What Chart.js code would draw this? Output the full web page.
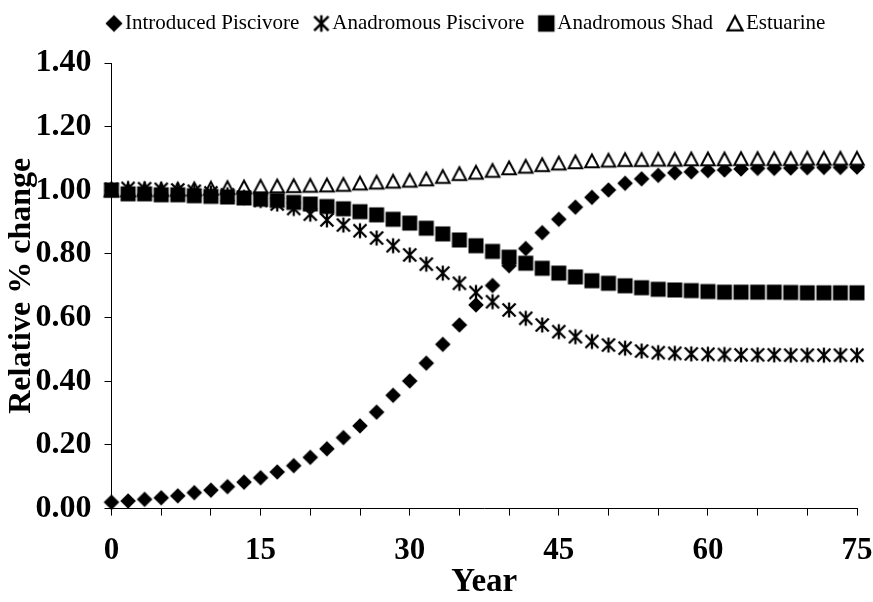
<!DOCTYPE html>
<html>
<head>
<meta charset="utf-8">
<script src="https://cdn.jsdelivr.net/npm/chart.js@4/dist/chart.umd.min.js"></script>
<style>
  html, body { margin: 0; padding: 0; background: #fff; }
  canvas { display: block; }
</style>
</head>
<body>
<canvas id="chart" width="873" height="602"></canvas>
<script>
// Simulation years (one point every 5/3 year)
const years = [0, 1.67, 3.33, 5, 6.67, 8.33, 10, 11.67, 13.33, 15, 16.67, 18.33, 20, 21.67, 23.33,
  25, 26.67, 28.33, 30, 31.67, 33.33, 35, 36.67, 38.33, 40, 41.67, 43.33, 45, 46.67, 48.33,
  50, 51.67, 53.33, 55, 56.67, 58.33, 60, 61.67, 63.33, 65, 66.67, 68.33, 70, 71.67, 73.33, 75];

const introducedPiscivore = [0.020, 0.024, 0.029, 0.034, 0.040, 0.050, 0.058, 0.069, 0.083, 0.097,
  0.115, 0.135, 0.161, 0.188, 0.223, 0.260, 0.303, 0.356, 0.401, 0.457,
  0.516, 0.577, 0.640, 0.701, 0.763, 0.817, 0.867, 0.909, 0.947, 0.978,
  1.001, 1.022, 1.036, 1.047, 1.055, 1.058, 1.062, 1.064, 1.067, 1.069,
  1.069, 1.070, 1.071, 1.072, 1.072, 1.073];

const anadromousPiscivore = [1.003, 1.006, 1.005, 1.003, 1.001, 0.997, 0.992, 0.986, 0.978, 0.968,
  0.957, 0.943, 0.925, 0.907, 0.891, 0.873, 0.850, 0.826, 0.797, 0.768,
  0.740, 0.708, 0.679, 0.650, 0.624, 0.598, 0.577, 0.556, 0.540, 0.525,
  0.514, 0.504, 0.495, 0.490, 0.488, 0.486, 0.485, 0.484, 0.483, 0.483,
  0.483, 0.482, 0.482, 0.482, 0.482, 0.482];

const anadromousShad = [1.001, 0.989, 0.989, 0.986, 0.986, 0.983, 0.981, 0.979, 0.976, 0.972,
  0.968, 0.962, 0.957, 0.949, 0.942, 0.933, 0.923, 0.909, 0.897, 0.881,
  0.863, 0.844, 0.826, 0.808, 0.790, 0.771, 0.755, 0.740, 0.728, 0.716,
  0.708, 0.700, 0.694, 0.689, 0.687, 0.685, 0.682, 0.680, 0.680, 0.680,
  0.680, 0.679, 0.678, 0.678, 0.678, 0.678];

const estuarine = [1.000, 1.001, 1.002, 1.002, 1.003, 1.004, 1.006, 1.008, 1.010, 1.012,
  1.013, 1.014, 1.015, 1.016, 1.018, 1.022, 1.025, 1.028, 1.031, 1.035,
  1.043, 1.052, 1.056, 1.062, 1.070, 1.075, 1.080, 1.085, 1.089, 1.092,
  1.094, 1.096, 1.096, 1.097, 1.097, 1.098, 1.098, 1.098, 1.099, 1.099,
  1.099, 1.099, 1.100, 1.100, 1.100, 1.100];

const xTickLabels = [0, 15, 30, 45, 60, 75];

// Marker glyphs drawn into small canvases; s = scale factor
function makeMarker(draw, s) {
  const size = Math.round(20 * s);
  const c = document.createElement('canvas');
  c.width = size; c.height = size;
  const g = c.getContext('2d');
  g.scale(s, s);
  draw(g);
  return c;
}
function drawDiamond(g) {
  g.fillStyle = '#000';
  g.beginPath();
  g.moveTo(10, 2.2); g.lineTo(17.8, 10); g.lineTo(10, 17.8); g.lineTo(2.2, 10);
  g.closePath(); g.fill();
}
function drawAsterisk(g) {
  g.strokeStyle = '#000'; g.lineWidth = 2.3; g.lineCap = 'butt';
  g.beginPath();
  g.moveTo(3.5, 3.5); g.lineTo(16.5, 16.5);
  g.moveTo(16.5, 3.5); g.lineTo(3.5, 16.5);
  g.moveTo(10, 2.5); g.lineTo(10, 17.5);
  g.stroke();
}
function drawSquare(g) {
  g.fillStyle = '#000';
  g.fillRect(2.5, 2.5, 15, 15);
}
function drawTriangle(g) {
  g.fillStyle = '#fff'; g.strokeStyle = '#000'; g.lineWidth = 2; g.lineJoin = 'miter';
  g.beginPath();
  g.moveTo(10, 3.5); g.lineTo(16.8, 16.3); g.lineTo(3.2, 16.3);
  g.closePath(); g.fill(); g.stroke();
}
const plotMarkers = [drawDiamond, drawAsterisk, drawSquare, drawTriangle].map(d => makeMarker(d, 1));
const legendMarkers = [drawDiamond, drawAsterisk, drawSquare, drawTriangle].map(d => makeMarker(d, 1.1));

function points(values) {
  return values.map((v, i) => ({ x: years[i], y: v }));
}

// Places the legend row and reserves the band above the plot
const legendPlacement = {
  id: 'legendPlacement',
  afterInit(chart) {
    const lg = chart.legend;
    const fit = lg.fit.bind(lg);
    lg.fit = function () { fit(); this.height = 63; };
  },
  afterLayout(chart) {
    const lg = chart.legend;
    const p = lg.options.labels.padding;
    const dx = 113.5 - p - lg.left;
    lg.left += dx; lg.right += dx;
    lg.top = 13 - p; lg.bottom = lg.top + lg.height;
  }
};

const serif = "'Liberation Serif', 'Times New Roman', serif";
Chart.defaults.color = '#000';
Chart.defaults.font.family = serif;

const seriesStyle = {
  showLine: false,
  clip: false,
  pointRadius: 8,
  pointHoverRadius: 8,
  borderColor: '#000',
  backgroundColor: '#000'
};

new Chart(document.getElementById('chart'), {
  type: 'scatter',
  data: {
    datasets: [
      { ...seriesStyle, label: 'Introduced Piscivore', data: points(introducedPiscivore), pointStyle: plotMarkers[0], order: 3 },
      { ...seriesStyle, label: 'Anadromous Piscivore', data: points(anadromousPiscivore), pointStyle: plotMarkers[1], order: 1 },
      { ...seriesStyle, label: 'Anadromous Shad', data: points(anadromousShad), pointStyle: plotMarkers[2], order: 0 },
      { ...seriesStyle, label: 'Estuarine', data: points(estuarine), pointStyle: plotMarkers[3], order: 2 }
    ]
  },
  options: {
    responsive: false,
    animation: false,
    layout: { padding: { left: 0, right: 16, top: 0, bottom: 0 } },
    plugins: {
      tooltip: { enabled: false },
      legend: {
        position: 'top',
        align: 'start',
        labels: {
          usePointStyle: true,
          pointStyleWidth: 1,
          padding: 21.5,
          color: '#000',
          font: { family: serif, size: 21, weight: 'normal' },
          sort: (a, b) => a.datasetIndex - b.datasetIndex,
          generateLabels: chart =>
            Chart.defaults.plugins.legend.labels.generateLabels(chart)
              .map(item => ({ ...item, pointStyle: legendMarkers[item.datasetIndex] }))
        }
      }
    },
    scales: {
      x: {
        type: 'linear',
        min: 0,
        max: 75,
        afterFit: scale => { scale.height = 93.4; scale.paddingLeft = 0; scale.paddingRight = 0; },
        border: { display: true, color: '#000', width: 1 },
        grid: { display: true, drawOnChartArea: false, drawTicks: true, tickLength: 7, tickColor: '#000', tickWidth: 1 },
        ticks: {
          stepSize: 5,
          autoSkip: false,
          maxRotation: 0,
          padding: 17,
          color: '#000',
          font: { family: serif, size: 31, weight: 'bold' },
          callback: v => (xTickLabels.includes(v) ? String(v) : '')
        },
        title: {
          display: true,
          text: 'Year',
          color: '#000',
          font: { family: serif, size: 33, weight: 'bold' },
          padding: { top: 0, bottom: 0 }
        }
      },
      y: {
        min: 0,
        max: 1.4,
        afterFit: scale => { scale.width = 111.5; },
        border: { display: true, color: '#000', width: 1 },
        grid: { display: true, drawOnChartArea: false, drawTicks: true, tickLength: 7, tickColor: '#000', tickWidth: 1 },
        ticks: {
          stepSize: 0.2,
          padding: 13,
          color: '#000',
          font: { family: serif, size: 32, weight: 'bold' },
          callback: v => v.toFixed(2)
        },
        title: {
          display: true,
          text: 'Relative % change',
          color: '#000',
          font: { family: serif, size: 32, weight: 'bold' },
          padding: { top: 3, bottom: 0 }
        }
      }
    }
  },
  plugins: [legendPlacement]
});
</script>
</body>
</html>
